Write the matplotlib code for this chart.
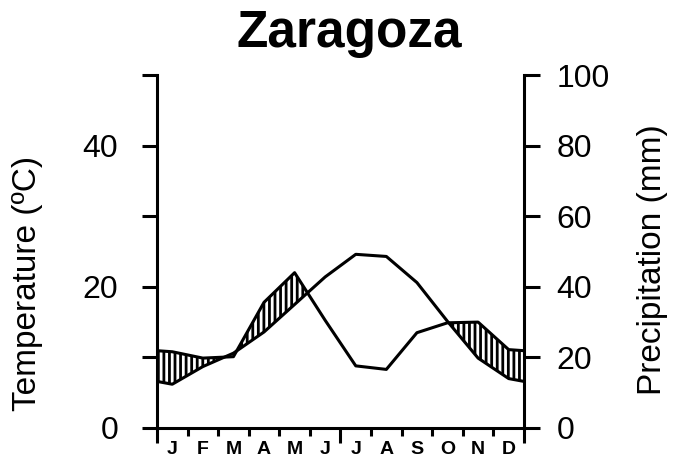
import numpy as np
import matplotlib
matplotlib.use("Agg")
from matplotlib import pyplot as plt
from matplotlib.ticker import FixedLocator, NullFormatter

# Walter-Lieth climate diagram, Zaragoza
months = ["J", "F", "M", "A", "M", "J", "J", "A", "S", "O", "N", "D"]
temperature = [6.2, 8.7, 10.6, 13.6, 17.5, 21.4, 24.6, 24.3, 20.6, 15.1, 9.9, 7.0]
precipitation = [21.6, 19.8, 20.2, 35.6, 44.0, 30.5, 17.6, 16.6, 27.0, 29.8, 30.0, 22.2]
temp_ticks = [0, 20, 40]
temp_minor = [10, 30, 50]
prec_ticks = [0, 20, 40, 60, 80, 100]

plt.rcParams["font.family"] = ["Liberation Sans", "DejaVu Sans"]
plt.rcParams["hatch.linewidth"] = 2.0

# month centres, closed at both ends with the Dec/Jan mean
x = np.concatenate(([0], np.arange(12) + 0.5, [12]))
t_edge = (temperature[0] + temperature[-1]) / 2
p_edge = (precipitation[0] + precipitation[-1]) / 2
t = np.concatenate(([t_edge], temperature, [t_edge]))
p = np.concatenate(([p_edge], precipitation, [p_edge]))

fig = plt.figure(figsize=(6.74, 4.63), dpi=100)
ax = fig.add_axes([0.2329, 0.0756, 0.5445, 0.7624])
ax2 = ax.twinx()

# humid period: precipitation (2 mm = 1 ºC) above temperature
ax.fill_between(x, t, p / 2, where=p / 2 > t, interpolate=True,
                facecolor="none", edgecolor="black", hatch="|||", linewidth=0)
ax.plot(x, t, color="black", lw=2.2, solid_joinstyle="round")
ax2.plot(x, p, color="black", lw=2.2, solid_joinstyle="round")

ax.set_xlim(0, 12)
ax.set_ylim(0, 50)
ax2.set_ylim(0, 100)

for s in ["top", "right"]:
    ax.spines[s].set_visible(False)
for s in ["top", "left", "bottom"]:
    ax2.spines[s].set_visible(False)
for s in ["left", "bottom"]:
    ax.spines[s].set_linewidth(2.2)
ax2.spines["right"].set_linewidth(2.2)

ax.yaxis.set_major_locator(FixedLocator(temp_ticks))
ax.yaxis.set_minor_locator(FixedLocator(temp_minor))
ax.tick_params(axis="y", which="both", direction="out", length=10.8, width=2.2,
               labelsize=23, pad=17)
ax2.yaxis.set_major_locator(FixedLocator(prec_ticks))
ax2.tick_params(axis="y", direction="out", length=11.5, width=2.2,
                labelsize=23, pad=12)

ax.xaxis.set_major_locator(FixedLocator([0, 6, 12]))
ax.xaxis.set_minor_locator(FixedLocator([1, 2, 3, 4, 5, 7, 8, 9, 10, 11]))
ax.xaxis.set_major_formatter(NullFormatter())
ax.tick_params(axis="x", which="major", direction="out", length=10.8, width=2.2)
ax.tick_params(axis="x", which="minor", direction="out", length=5.8, width=2.2)

trans = ax.get_xaxis_transform()
for i, m in enumerate(months):
    ax.text(i + 0.5, -0.06, m, transform=trans, ha="center", va="center",
            fontsize=14, fontweight="bold")

fig.text(0.0415, 0.3877, "Temperature (ºC)", rotation=90, ha="center",
         va="center", fontsize=24)
fig.text(0.968, 0.4384, "Precipitation (mm)", rotation=90, ha="center",
         va="center", fontsize=24)
fig.text(0.518, 0.8985, "Zaragoza", ha="center", va="baseline",
         fontsize=37, fontweight="bold")

fig.savefig("out.png", dpi=100)
